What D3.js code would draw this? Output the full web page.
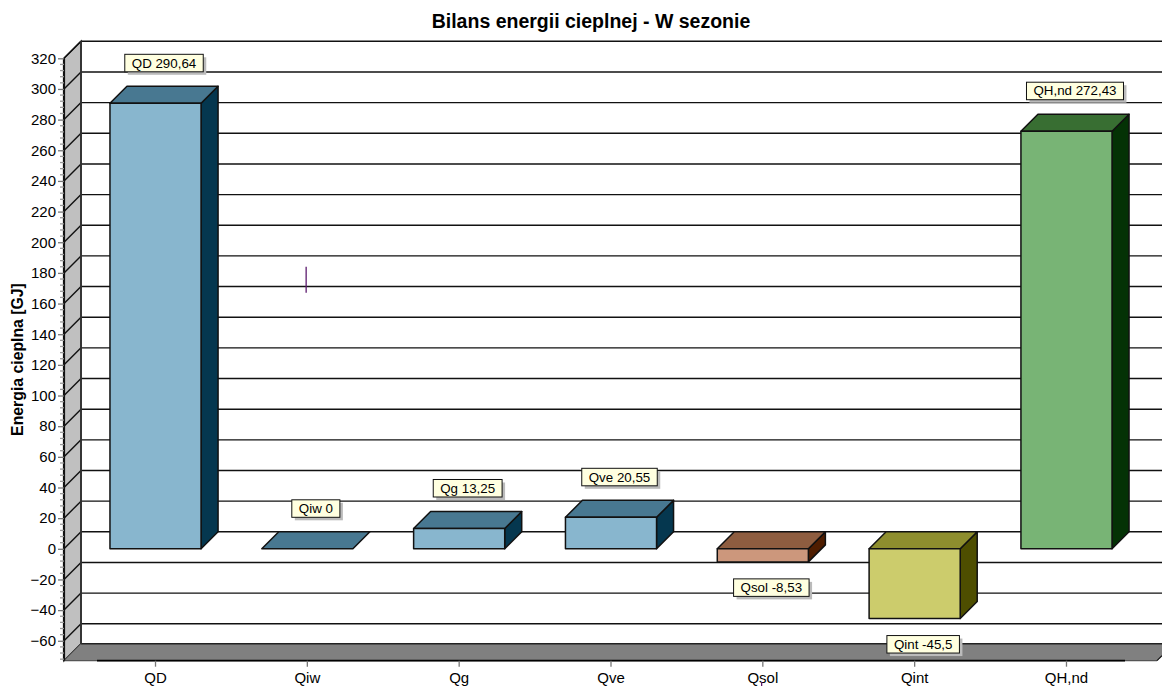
<!DOCTYPE html>
<html><head><meta charset="utf-8">
<script src="https://cdn.jsdelivr.net/npm/d3@7"></script>
<style>html,body{margin:0;background:#fff}svg{display:block}text{font-family:"Liberation Sans",Arial,sans-serif;fill:#000}</style>
</head><body><svg id="c" width="1162" height="686"></svg>
<script>
// Seasonal heat balance, one 3D box per component.
const categories = ["QD","Qiw","Qg","Qve","Qsol","Qint","QH,nd"];
const values = [290.64,0,13.25,20.55,-8.53,-45.5,272.43];
const valueLabels = ["290,64","0","13,25","20,55","-8,53","-45,5","272,43"];
const frontColors = ["#88b6ce","#88b6ce","#88b6ce","#88b6ce","#cc977c","#cccc6c","#78b475"];
const topColors = ["#487891","#487891","#487891","#487891","#8e5d40","#8e8e2e","#386e32"];
const sideColors = ["#05374f","#05374f","#05374f","#05374f","#4f1d00","#4e4e00","#043205"];
const majorTicks = d3.range(-60,321,20);
const minorTicks = d3.range(-72,321,4).filter(v=>v%20!==0);
const markerCats = ["Qiw","Qsol"];
const markerHigh = [184,-87];
const markerLow = [167,-90];

const W=1162, DEPTH=17;
const svg=d3.select("#c");
const y=d3.scaleLinear().domain([-73,320]).range([660.7,58.3]);
const x=d3.scaleBand().domain(categories).range([79.6,1142.4]);
const barW=x.bandwidth()*0.6;
const left=64, back=left+DEPTH, floorY=y(-73);
const ink="#111";

svg.append("text").attr("x",591).attr("y",28).attr("text-anchor","middle")
  .attr("font-size",19.5).attr("font-weight","bold").text("Bilans energii cieplnej - W sezonie");
svg.append("text").attr("transform","translate(23,359.5) rotate(-90)").attr("text-anchor","middle")
  .attr("font-size",15.8).attr("font-weight","bold").text("Energia cieplna [GJ]");

// Side wall and floor
svg.append("polygon").attr("fill","#c0c0c0").attr("stroke",ink).attr("stroke-width",1.4)
  .attr("points",[[left,y(320)],[back,y(320)-DEPTH],[back,floorY-DEPTH],[left,floorY]].join(" "));
svg.append("polygon").attr("fill","#808080")
  .attr("points",[[left,floorY],[back,floorY-DEPTH],[W+12,floorY-DEPTH],[W-5,floorY]].join(" "));
svg.append("line").attr("x1",back).attr("x2",W).attr("y1",floorY-DEPTH).attr("y2",floorY-DEPTH)
  .attr("stroke","#222").attr("stroke-width",1.6);
svg.append("line").attr("x1",left).attr("x2",W-5).attr("y1",floorY).attr("y2",floorY)
  .attr("stroke","#555").attr("stroke-width",1.2);
svg.append("line").attr("x1",97).attr("x2",1125).attr("y1",floorY).attr("y2",floorY)
  .attr("stroke","#000").attr("stroke-width",1.8);
svg.append("line").attr("x1",W-5).attr("x2",W).attr("y1",floorY).attr("y2",floorY-5)
  .attr("stroke","#111").attr("stroke-width",1.2);

// Gridlines across the back plane, continued diagonally over the wall
const grid=svg.append("g").attr("stroke",ink).attr("stroke-width",1.4);
grid.selectAll("line.h").data(majorTicks).join("line").attr("class","h")
  .attr("x1",back).attr("x2",W).attr("y1",d=>y(d)-DEPTH).attr("y2",d=>y(d)-DEPTH);
grid.selectAll("line.d").data(majorTicks).join("line").attr("class","d")
  .attr("x1",left).attr("x2",back).attr("y1",d=>y(d)).attr("y2",d=>y(d)-DEPTH);
svg.append("line").attr("x1",back).attr("x2",back).attr("y1",y(320)-DEPTH).attr("y2",floorY-DEPTH)
  .attr("stroke","#333").attr("stroke-width",1.8);

// Axes
const ax=svg.append("g").attr("transform",`translate(${left},0)`)
  .call(d3.axisLeft(y).tickValues(majorTicks).tickSize(6).tickPadding(2).tickFormat(d3.format("d")));
ax.select(".domain").attr("stroke",ink).attr("stroke-width",2.2).attr("d",`M0,${y(320)}V${floorY}`);
ax.selectAll(".tick line").attr("stroke","#777").attr("stroke-width",1.3);
ax.selectAll(".tick text").attr("font-size",15).attr("font-family",null).attr("fill","#000");
ax.selectAll("line.minor").data(minorTicks).join("line").attr("class","minor")
  .attr("x1",-4).attr("x2",0).attr("y1",y).attr("y2",y).attr("stroke","#999").attr("stroke-width",1.3);

const bx=svg.append("g").attr("transform",`translate(0,${floorY})`)
  .call(d3.axisBottom(x).tickSize(6));
bx.select(".domain").remove();
bx.selectAll(".tick line").attr("stroke","#777").attr("stroke-width",1.3);
bx.selectAll(".tick text").attr("font-size",15).attr("font-family",null).attr("fill","#000")
  .attr("y",22).attr("dy",0);

// Short vertical markers
markerCats.forEach((c,i)=>{
  const mx=x(c)+x.bandwidth()/2-1.2;
  svg.append("line").attr("x1",mx).attr("x2",mx)
    .attr("y1",y(markerHigh[i])).attr("y2",y(markerLow[i])).attr("stroke","#5c1a6e").attr("stroke-width",1.3);
});

// Boxes
const bars=svg.append("g").attr("stroke",ink).attr("stroke-width",1.5).attr("stroke-linejoin","round");
categories.forEach((c,i)=>{
  const v=values[i], x0=x(c)+(x.bandwidth()-barW)/2, x1=x0+barW;
  const yt=y(Math.max(v,0)), yb=y(Math.min(v,0));
  const g=bars.append("g");
  if(yb>yt){
    g.append("polygon").attr("fill",sideColors[i])
      .attr("points",[[x1,yt],[x1+DEPTH,yt-DEPTH],[x1+DEPTH,yb-DEPTH],[x1,yb]].join(" "));
  }
  g.append("polygon").attr("fill",topColors[i])
    .attr("points",[[x0,yt],[x0+DEPTH,yt-DEPTH],[x1+DEPTH,yt-DEPTH],[x1,yt]].join(" "));
  if(yb>yt) g.append("rect").attr("x",x0).attr("y",yt).attr("width",barW).attr("height",yb-yt).attr("fill",frontColors[i]);
});

// Value callouts
const notes=svg.append("g");
categories.forEach((c,i)=>{
  const v=values[i], cx=x(c)+x.bandwidth()/2+8.5;
  const h=17.5, by=v>=0? y(v)-DEPTH-14.5-h : y(v)+17;
  const g=notes.append("g");
  const shadow=g.append("rect").attr("fill","#bbb");
  const box=g.append("rect").attr("fill","#ffffe0").attr("stroke",ink).attr("stroke-width",1);
  const t=g.append("text").attr("font-size",13.33).attr("text-anchor","middle")
    .attr("x",cx).attr("y",by+13.2).text(c+" "+valueLabels[i]);
  const w=t.node().getComputedTextLength()+14;
  box.attr("x",cx-w/2).attr("y",by).attr("width",w).attr("height",h);
  shadow.attr("x",cx-w/2+3).attr("y",by+3).attr("width",w).attr("height",h);
});
</script></body></html>
